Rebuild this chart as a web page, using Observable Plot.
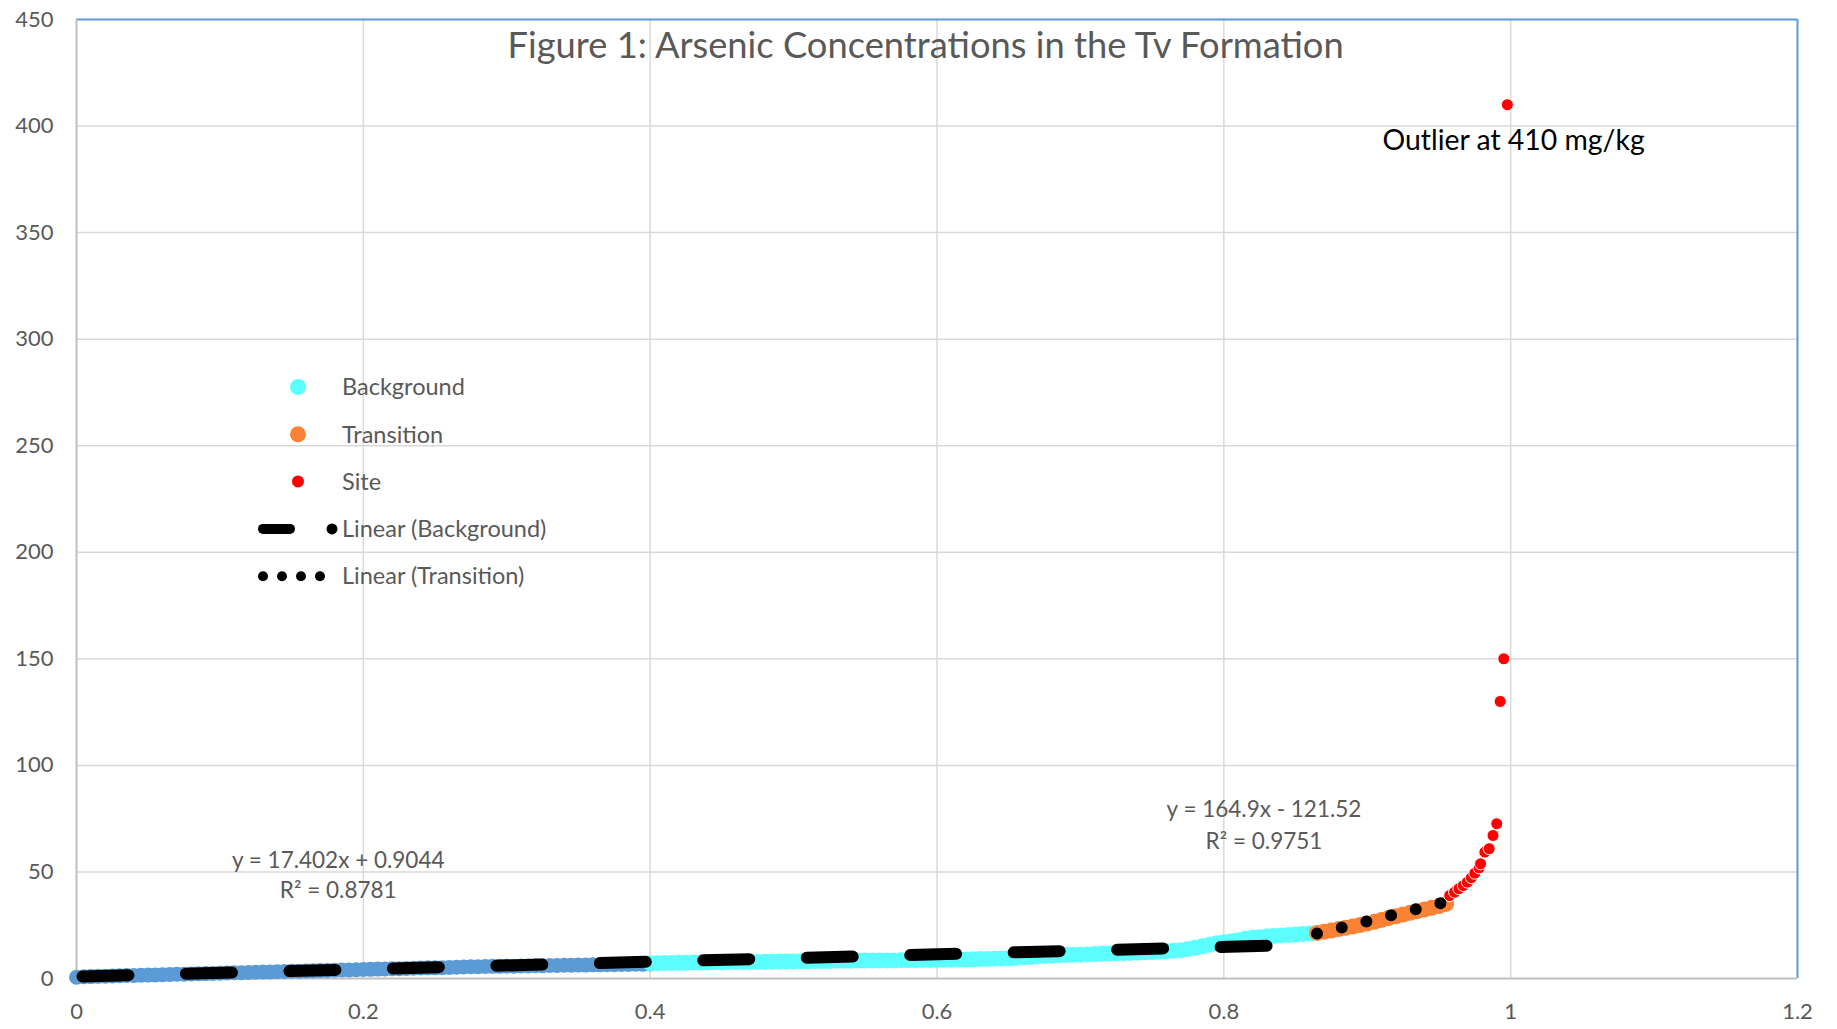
<!DOCTYPE html>
<html><head><meta charset="utf-8">
<script src="https://cdn.jsdelivr.net/npm/d3@7"></script>
<script src="https://cdn.jsdelivr.net/npm/@observablehq/plot@0.6"></script>
<style>html,body{margin:0;padding:0;background:#fff;} #chart{position:relative;width:1837px;height:1029px;}</style>
</head><body><div id="chart"></div><script>
// ---- data (x = cumulative probability, y = arsenic mg/kg) ----
const xTicks = [0, 0.2, 0.4, 0.6, 0.8, 1, 1.2];
const yTicks = [0, 50, 100, 150, 200, 250, 300, 350, 400, 450];

const blueSeries = [[0.000,0.6],[0.005,0.8],[0.010,0.9],[0.015,1.0],[0.020,1.1],[0.025,1.2],[0.030,1.3],[0.035,1.4],[0.040,1.4],[0.045,1.5],
[0.050,1.6],[0.055,1.7],[0.060,1.8],[0.065,1.9],[0.070,2.0],[0.075,2.0],[0.080,2.1],[0.085,2.2],[0.090,2.3],[0.095,2.4],
[0.100,2.5],[0.105,2.6],[0.110,2.7],[0.115,2.7],[0.120,2.8],[0.125,2.9],[0.130,3.0],[0.135,3.1],[0.140,3.2],[0.145,3.3],
[0.150,3.4],[0.155,3.4],[0.160,3.5],[0.165,3.6],[0.170,3.7],[0.175,3.8],[0.180,3.9],[0.185,4.0],[0.190,4.0],[0.195,4.1],
[0.200,4.2],[0.205,4.3],[0.210,4.4],[0.215,4.5],[0.220,4.6],[0.225,4.6],[0.230,4.7],[0.235,4.8],[0.240,4.9],[0.245,5.0],
[0.250,5.0],[0.255,5.1],[0.260,5.2],[0.265,5.3],[0.270,5.4],[0.275,5.5],[0.280,5.5],[0.285,5.6],[0.290,5.7],[0.295,5.7],
[0.300,5.8],[0.305,5.8],[0.310,5.9],[0.315,5.9],[0.320,6.0],[0.325,6.0],[0.330,6.1],[0.335,6.1],[0.340,6.2],[0.345,6.2],
[0.350,6.3],[0.355,6.3],[0.360,6.4],[0.365,6.4],[0.370,6.5],[0.375,6.5],[0.380,6.6],[0.385,6.6],[0.390,6.7],[0.395,6.7],[0.400,6.8]];

const background = [[0.400,7.2],[0.405,7.2],[0.410,7.3],[0.415,7.3],[0.420,7.4],[0.425,7.4],[0.430,7.5],[0.435,7.5],[0.440,7.5],[0.445,7.6],
[0.450,7.6],[0.455,7.7],[0.460,7.7],[0.465,7.8],[0.470,7.8],[0.475,7.8],[0.480,7.9],[0.485,7.9],[0.490,8.0],[0.495,8.0],
[0.500,8.0],[0.505,8.1],[0.510,8.1],[0.515,8.2],[0.520,8.2],[0.525,8.2],[0.530,8.3],[0.535,8.3],[0.540,8.3],[0.545,8.4],
[0.550,8.4],[0.555,8.4],[0.560,8.5],[0.565,8.5],[0.570,8.5],[0.575,8.6],[0.580,8.6],[0.585,8.6],[0.590,8.7],[0.595,8.7],
[0.600,8.7],[0.605,8.8],[0.610,8.8],[0.615,8.9],[0.620,8.9],[0.625,9.0],[0.630,9.1],[0.635,9.2],[0.640,9.3],[0.645,9.4],
[0.650,9.5],[0.655,9.7],[0.660,9.9],[0.665,10.1],[0.670,10.4],[0.675,10.6],[0.680,10.8],[0.685,10.9],[0.690,11.0],[0.695,11.1],
[0.700,11.2],[0.705,11.3],[0.710,11.5],[0.715,11.6],[0.720,11.7],[0.725,11.8],[0.730,11.9],[0.735,12.0],[0.740,12.1],[0.745,12.3],
[0.750,12.4],[0.755,12.6],[0.760,12.8],[0.765,13.0],[0.770,13.3],[0.775,13.8],[0.780,14.4],[0.785,15.1],[0.790,15.8],[0.795,16.5],
[0.800,17.0],[0.805,17.5],[0.810,18.0],[0.815,18.6],[0.820,19.1],[0.825,19.4],[0.830,19.7],[0.835,20.0],[0.840,20.2],[0.845,20.4],
[0.850,20.6],[0.855,20.9],[0.860,21.1]];

const transition = [[0.865,21.4],[0.870,21.9],[0.875,22.5],[0.880,23.2],[0.885,23.8],[0.890,24.4],[0.895,25.1],[0.900,25.8],[0.905,26.6],
[0.910,27.5],[0.915,28.4],[0.920,29.2],[0.925,30.0],[0.930,30.8],[0.935,31.6],[0.940,32.4],[0.945,33.2],[0.950,34.0],[0.955,35.0]];

const site = [[0.9575,38.9],[0.9609,40.5],[0.9639,42.1],[0.9670,43.6],[0.9698,45.2],[0.9726,47.3],[0.9750,49.4],[0.9780,51.9],
[0.9790,53.8],[0.9820,59.3],[0.9850,60.9],[0.9877,67.1],[0.9903,72.6],[0.9927,130],[0.9952,150],[0.9977,410]];

// trendlines (from the chart's regression equations)
const bgTrend = {slope: 17.402, intercept: 0.9044, from: 0, to: 0.862};
const trTrend = {slope: 164.9, intercept: -121.52, from: 0.865, to: 0.957};

const eqLabels = [
  {x: 0.1825, y: 55.4, text: "y = 17.402x + 0.9044"},
  {x: 0.1825, y: 41.2, text: "R² = 0.8781"},
  {x: 0.828, y: 79.0, text: "y = 164.9x - 121.52"},
  {x: 0.828, y: 64.2, text: "R² = 0.9751"}
];
const outlierLabel = [{x: 1.002, y: 392.9, text: "Outlier at 410 mg/kg"}];
const titleText = "Figure 1: Arsenic Concentrations in the Tv Formation";

const C = {blue: "#5b9bd5", cyan: "#5cffff", orange: "#fb8135", red: "#ff0000", grid: "#d9d9d9", axis: "#bfbfbf", text: "#595959"};

const legendItems = [
  {label: "Background", type: "dot", color: C.cyan, r: 8},
  {label: "Transition", type: "dot", color: C.orange, r: 8},
  {label: "Site", type: "dot", color: C.red, r: 6},
  {label: "Linear (Background)", type: "dash"},
  {label: "Linear (Transition)", type: "dots"}
];

const trendPts = t => [{x: t.from, y: t.slope * t.from + t.intercept}, {x: t.to, y: t.slope * t.to + t.intercept}];

const W = 1837, H = 1029;
const plot = Plot.plot({
  width: W, height: H,
  marginLeft: 76, marginRight: 40, marginTop: 19, marginBottom: 51,
  style: {fontFamily: "Lato, sans-serif", fontSize: "22px", color: C.text, background: "#fff", overflow: "visible"},
  x: {domain: [0, 1.2]},
  y: {domain: [0, 450]},
  marks: [
    Plot.gridX(xTicks.filter(d => d > 0 && d < 1.2), {stroke: C.grid, strokeOpacity: 1, strokeWidth: 1.5}),
    Plot.gridY(yTicks.filter(d => d > 0 && d < 450), {stroke: C.grid, strokeOpacity: 1, strokeWidth: 1.5}),
    Plot.ruleX([1.2], {stroke: C.blue, strokeWidth: 2}),
    Plot.ruleY([450], {stroke: C.blue, strokeWidth: 2}),
    Plot.ruleX([0], {stroke: C.axis, strokeWidth: 2}),
    Plot.ruleY([0], {stroke: C.axis, strokeWidth: 2}),
    Plot.axisX(xTicks, {tickSize: 0, tickPadding: 25, tickFormat: d => String(d), label: null, fontSize: 22}),
    Plot.axisY(yTicks, {tickSize: 0, tickPadding: 23, tickFormat: d => String(d), label: null, fontSize: 22}),
    Plot.dot(blueSeries, {x: d => d[0], y: d => d[1], r: 7.5, fill: C.blue}),
    Plot.dot(background, {x: d => d[0], y: d => d[1], r: 8, fill: C.cyan}),
    Plot.dot(transition, {x: d => d[0], y: d => d[1], r: 8, fill: C.orange}),
    Plot.dot(site, {x: d => d[0], y: d => d[1], r: 6, fill: C.red, stroke: "#fff", strokeWidth: 1}),
    Plot.line(trendPts(bgTrend), {x: "x", y: "y", stroke: "#000", strokeWidth: 12, strokeLinecap: "round", strokeDasharray: "46,57.5", strokeDashoffset: -6}),
    Plot.line(trendPts(trTrend), {x: "x", y: "y", stroke: "#000", strokeWidth: 12, strokeLinecap: "round", strokeDasharray: "0,25.4"}),
    Plot.text(eqLabels, {x: "x", y: "y", text: "text", fill: C.text, fontSize: 22.5, textAnchor: "middle"}),
    Plot.text(outlierLabel, {x: "x", y: "y", text: "text", fill: "#000", fontSize: 28.4, textAnchor: "middle"})
  ]
});
document.getElementById("chart").appendChild(plot);

// title and legend drawn into the same svg
const svg = d3.select(plot);
svg.append("text").attr("x", 925.6).attr("y", 45.7).attr("dy", "0.35em")
  .attr("text-anchor", "middle").attr("fill", C.text)
  .style("font-family", "Lato, sans-serif").style("font-size", "36.3px").text(titleText);

const lg = svg.append("g").attr("text-anchor", "start").style("font-family", "Lato, sans-serif").style("font-size", "23.5px");
const symX = 298, txtX = 342, row0 = 387, rowStep = 47.3;
legendItems.forEach((it, i) => {
  const y = row0 + i * rowStep;
  if (it.type === "dot") {
    lg.append("circle").attr("cx", symX).attr("cy", y).attr("r", it.r).attr("fill", it.color);
  } else if (it.type === "dash") {
    lg.append("line").attr("x1", 263).attr("x2", 290).attr("y1", y).attr("y2", y)
      .attr("stroke", "#000").attr("stroke-width", 10).attr("stroke-linecap", "round");
    lg.append("circle").attr("cx", 332).attr("cy", y).attr("r", 5.5).attr("fill", "#000");
  } else {
    [263, 282, 301, 320].forEach(cx => lg.append("circle").attr("cx", cx).attr("cy", y).attr("r", 5).attr("fill", "#000"));
  }
  lg.append("text").attr("x", txtX).attr("y", y).attr("dy", "0.35em").attr("text-anchor", "start").attr("fill", C.text).text(it.label);
});
</script></body></html>
